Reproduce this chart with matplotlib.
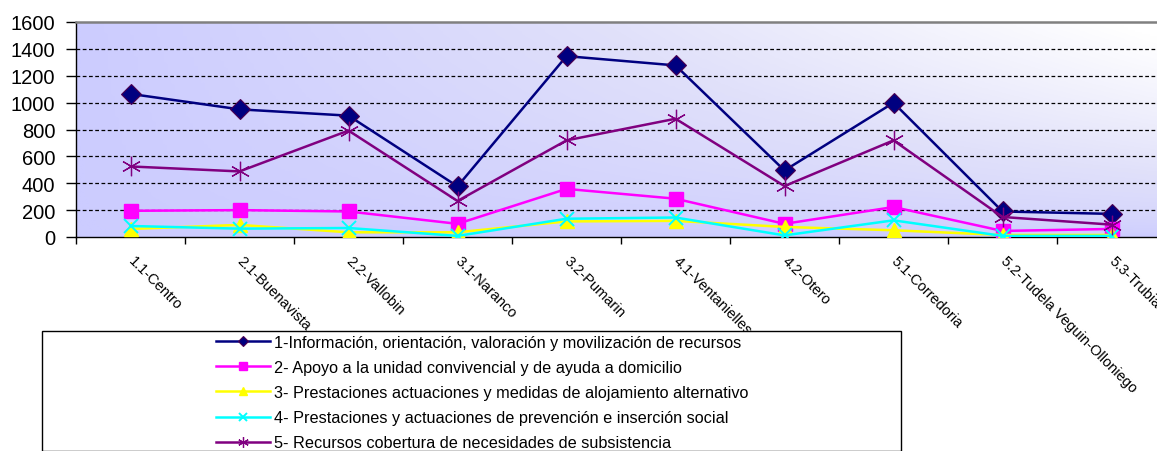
import numpy as np
import matplotlib
matplotlib.use("Agg")
import matplotlib.pyplot as plt
from matplotlib.patches import Rectangle
from matplotlib.colors import LinearSegmentedColormap

plt.rcParams['font.family'] = ['Liberation Sans', 'DejaVu Sans']

categories = ["1.1-Centro", "2.1-Buenavista", "2.2-Vallobin", "3.1-Naranco", "3.2-Pumarin",
              "4.1-Ventanielles", "4.2-Otero", "5.1-Corredoria", "5.2-Tudela Veguin-Olloniego",
              "5.3-Trubia"]
s1 = [1065, 950, 903, 377, 1346, 1277, 495, 999, 190, 172]
s2 = [195, 200, 190, 98, 358, 285, 98, 223, 45, 60]
s3 = [60, 90, 35, 35, 116, 120, 75, 50, 15, 15]
s4 = [82, 62, 67, 8, 136, 145, 12, 124, 8, 8]
s5 = [525, 488, 792, 268, 719, 880, 379, 719, 149, 92]
labels = ["1-Información, orientación, valoración y movilización de recursos",
          "2- Apoyo a la unidad convivencial y de ayuda a domicilio",
          "3- Prestaciones actuaciones y medidas de alojamiento alternativo",
          "4- Prestaciones y actuaciones de prevención e inserción social",
          "5- Recursos cobertura de necesidades de subsistencia"]
yticks = [0, 200, 400, 600, 800, 1000, 1200, 1400, 1600]

W, H = 1157, 452
fig = plt.figure(figsize=(W / 100, H / 100), dpi=100)
fig.patch.set_facecolor('white')

left_px, right_px, top_px, bot_px = 76, 1166, 23, 238
ax = fig.add_axes([left_px / W, (H - bot_px) / H, (right_px - left_px) / W, (bot_px - top_px) / H])

n = len(categories)
x = np.arange(n)
ax.set_xlim(-0.5, n - 0.5)
ax.set_ylim(0, 1600)

# gradient background
gx = np.linspace(0, 1, 300)
gy = np.linspace(0, 1, 100)
GX, GY = np.meshgrid(gx, gy)
T = np.clip(GX * GY ** 0.6 * 1.05, 0, 1)
cmap = LinearSegmentedColormap.from_list('bg', [(0.80, 0.80, 1.0), (0.88, 0.88, 0.98), (1.0, 1.0, 1.0)])
ax.imshow(T, cmap=cmap, origin='lower', extent=(-0.5, n - 0.5, 0, 1600), aspect='auto', zorder=0,
          interpolation='bilinear')

for v in yticks[1:-1]:
    ax.axhline(v, color='black', lw=0.9, ls=(0, (3, 2)), zorder=1)

lw = 1.8
ax.plot(x, s1, color='#000080', lw=lw, marker='D', ms=10, mfc='#000080', mec='#4b0050', mew=0.8,
        label=labels[0], zorder=3)
ax.plot(x, s2, color='#FF00FF', lw=lw, marker='s', ms=10.5, mfc='#FF00FF', mec='#FF00FF',
        label=labels[1], zorder=3)
ax.plot(x, s3, color='#FFFF00', lw=lw, marker='^', ms=10.5, mfc='#FFFF00', mec='#FFFF00',
        label=labels[2], zorder=3)
ax.plot(x, s4, color='#00FFFF', lw=lw, marker='x', ms=10, mew=1.4, mec='#00FFFF',
        label=labels[3], zorder=3)
ax.plot(x, s5, color='#800080', lw=lw, marker=(6, 2, 0), ms=14, mew=0.9, mec='#800080',
        label=labels[4], zorder=3)

# spines
ax.spines['top'].set_color('#808080')
ax.spines['top'].set_linewidth(1.8)
ax.spines['right'].set_visible(False)
ax.spines['left'].set_color('black')
ax.spines['bottom'].set_color('black')
ax.spines['left'].set_linewidth(1.0)
ax.spines['bottom'].set_linewidth(1.0)

ax.set_yticks(yticks)
ax.set_yticklabels([str(v) for v in yticks], fontsize=14.5)
ax.tick_params(axis='y', direction='out', length=7, width=1, pad=8, colors='black')

ax.set_xticks(np.arange(n + 1) - 0.5)
ax.set_xticklabels([])
ax.tick_params(axis='x', which='major', direction='out', length=5, width=1)
ax.set_xticks(x, minor=True)
ax.set_xticklabels(categories, minor=True, rotation=-45, ha='left', va='center',
                   rotation_mode='anchor', fontsize=10.5)
ax.tick_params(axis='x', which='minor', length=0, pad=15)

# legend box
fig.patches.append(Rectangle((42 / W, 0), (901 - 42) / W, (H - 332) / H, transform=fig.transFigure,
                             facecolor='white', edgecolor='black', lw=1.0, clip_on=False))
handles, labs = ax.get_legend_handles_labels()
leg = fig.legend(handles, labs, loc='upper left', bbox_to_anchor=(216 / W, (H - 336) / H),
                 frameon=False, fontsize=11.7, handlelength=3.3, handletextpad=0.25,
                 labelspacing=0.62, borderpad=0, borderaxespad=0, markerscale=0.55)
for l in leg.get_lines():
    l.set_linewidth(1.8)

fig.savefig('out.png', dpi=100)
